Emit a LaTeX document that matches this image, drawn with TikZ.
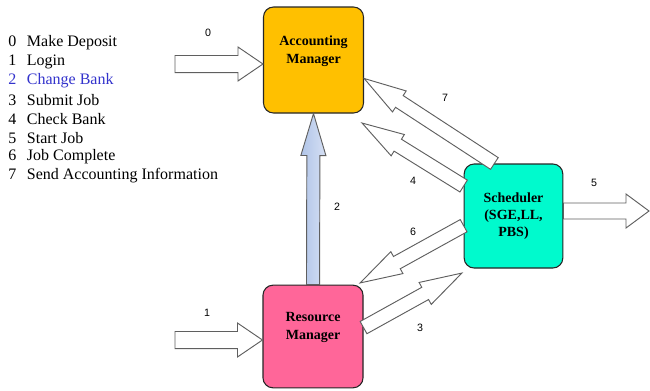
\documentclass[tikz,border=0pt]{standalone}
\usepackage{fontspec}
\setmainfont{Liberation Serif}
\newfontfamily\numfont{Liberation Sans}
\usetikzlibrary{calc}
\usetikzlibrary{positioning}
\definecolor{accorange}{RGB}{255,192,0}
\definecolor{respink}{RGB}{255,102,153}
\definecolor{schedaqua}{RGB}{0,250,205}
\definecolor{bankblue}{RGB}{51,51,204}
\definecolor{arrowgray}{RGB}{95,95,95}
\definecolor{steelL}{RGB}{176,196,232}
\definecolor{steelR}{RGB}{214,224,244}
\tikzset{
    mybox/.style = {rectangle, rounded corners=7.5pt, draw=black!85, line width=0.8pt, minimum width=75pt, minimum height=78pt},
    mynodeo/.style = {mybox, fill=accorange},
    mynodep/.style = {mybox, fill=respink},
    mynodet/.style = {mybox, fill=schedaqua, minimum width=74pt, align=center, font=\fontsize{10.5}{13}\selectfont\bfseries},
    boxtext/.style = {align=center, font=\fontsize{10.5}{13.5}\selectfont\bfseries},
    numlabel/.style = {font=\numfont\fontsize{8}{9}\selectfont},
    legend/.style = {anchor=west, inner sep=0pt, font=\fontsize{12}{14}\selectfont},
    arrowb/.style = {draw=arrowgray, line width=0.7pt, fill=white, line join=miter},
    arrowbl/.style = {arrowb, left color=steelL, right color=steelR},
}
% block arrow: [style]{from}{to}{shaft half width}{head half width}{head length}
\newcommand{\blockarrow}[6][]{%
  \draw[arrowb,#1] let \p1=(#2), \p2=(#3),
      \n1={atan2(\y2-\y1,\x2-\x1)}, \n2={veclen(\x2-\x1,\y2-\y1)} in
    [shift={(\p1)}, rotate=\n1]
    (0pt,-#4) -- (\n2-#6,-#4) -- (\n2-#6,-#5) -- (\n2,0pt)
    -- (\n2-#6,#5) -- (\n2-#6,#4) -- (0pt,#4) -- cycle;
}

\begin{document}
\begin{tikzpicture}[x=0.75pt,y=-0.75pt]
\useasboundingbox (0,0) rectangle (650,390);
%
\node[mynodeo, minimum height=79.5pt] at (313.5,60) (acct) {};
\node[boxtext] at ([yshift=6.75pt]acct.center) (acctlbl) {Accounting\\Manager};
\node[mynodep, minimum height=77pt] at (313,336.5) (res) {};
\node[boxtext] at ([yshift=6.75pt]res.center) (reslbl) {Resource\\Manager};
\node[mynodet] at (513.5,216) (sched) {Scheduler\\(SGE,LL,\\PBS)};
%
\coordinate (src0) at (175,64);
\coordinate (src1) at (175,340);
\coordinate (tip5) at (649,211);
\coordinate (tip4) at (362,123);
\coordinate (tip6) at (360,283);
\coordinate (tip3) at (462,273);
%
\blockarrow{src0}{acct.west |- src0}{6.4pt}{12.75pt}{18.75pt}
\blockarrow{src1}{res.west |- src1}{6.4pt}{12.75pt}{18.75pt}
\blockarrow[arrowbl]{res.north}{acct.south}{4.9pt}{9.4pt}{31.5pt}
\blockarrow{sched.east |- tip5}{tip5}{6pt}{12.75pt}{17.25pt}
\blockarrow{sched.110}{acct.-20}{5.25pt}{9.4pt}{31.5pt}
\blockarrow{sched.149}{tip4}{5.25pt}{9.4pt}{31.5pt}
\blockarrow{sched.191}{tip6}{5.25pt}{9.4pt}{31.5pt}
\blockarrow{res.10}{tip3}{5.25pt}{9.4pt}{31.5pt}
%
\node[numlabel] at (208,33) (n0) {0};
\node[numlabel] at (207,313) (n1) {1};
\node[numlabel] at (337,207) (n2) {2};
\node[numlabel] at (420,328) (n3) {3};
\node[numlabel] at (413,181) (n4) {4};
\node[numlabel] at (594,183) (n5) {5};
\node[numlabel] at (413,232) (n6) {6};
\node[numlabel] at (445,98) (n7) {7};
%
\foreach \t [count=\n from 0] in {Make Deposit, Login, Change Bank, Submit Job,
    Check Bank, Start Job, Job Complete, Send Accounting Information}
  \node[legend] at (8,43+19*\n) (leg\n)
    {\ifnum\n=2 \color{bankblue}\fi\makebox[14pt][l]{\n}\t};

\end{tikzpicture}
\end{document}
